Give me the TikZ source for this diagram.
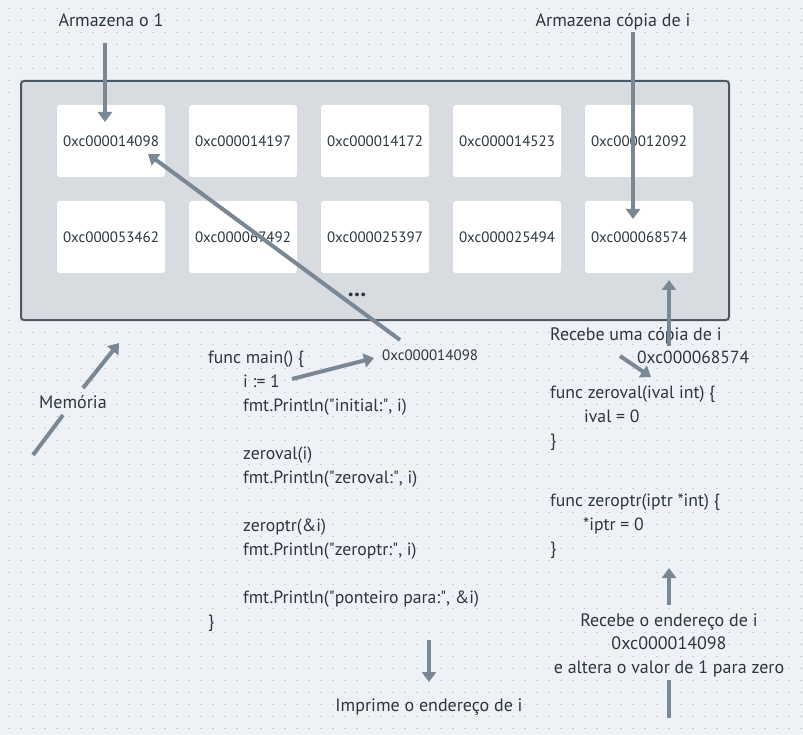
\documentclass[tikz,border=0pt]{standalone}
\usepackage{fontspec}
\setmainfont{PT Sans}
\usetikzlibrary{arrows.meta}
\definecolor{bg}{HTML}{EEF2F6}
\definecolor{dotc}{HTML}{C9CED4}
\definecolor{memfill}{HTML}{D8DCE0}
\definecolor{memborder}{HTML}{4C5864}
\definecolor{ink}{HTML}{2D3640}
\definecolor{arrowc}{HTML}{7A8895}
\newcommand\dq{\XeTeXglyph\XeTeXcharglyph"22\relax}
\begin{document}
\begin{tikzpicture}[x=1pt,y=-1pt,
  lbl/.style={inner sep=0pt, text=ink, font=\fontsize{18}{21}\selectfont},
  codetxt/.style={inner sep=0pt, text=ink, anchor=base west, font=\fontsize{17.7}{20}\selectfont},
  cell/.style={fill=white, rounded corners=3pt, minimum width=108pt, minimum height=72pt, inner sep=0pt, text=ink, font=\fontsize{15}{18}\selectfont},
  arr/.style={draw=arrowc, line width=4pt, -{Triangle[length=10pt,width=14pt]}},
  plainline/.style={draw=arrowc, line width=4pt}]
% background and dot grid
\fill[bg] (0,0) rectangle (803,735);
\useasboundingbox (0,0) rectangle (803,735);
\foreach \k in {0,...,60}{
  \draw[dotc, line width=1.3pt, dash pattern=on 1.3pt off 10.7pt] (8.4,8.5+12*\k) -- (803,8.5+12*\k);
}
% memory block
\draw[fill=memfill, draw=memborder, line width=2pt, rounded corners=3pt] (21,81) rectangle (729,320);
\node[cell] (c11) at (111,141) {0xc000014098};
\node[cell] (c12) at (243,141) {0xc000014197};
\node[cell] (c13) at (375,141) {0xc000014172};
\node[cell] (c14) at (507,141) {0xc000014523};
\node[cell] (c15) at (639,141) {0xc000012092};
\node[cell] (c21) at (111,237) {0xc000053462};
\node[cell] (c22) at (243,237) {0xc000067492};
\node[cell] (c23) at (375,237) {0xc000025397};
\node[cell] (c24) at (507,237) {0xc000025494};
\node[cell] (c25) at (639,237) {0xc000068574};
\node[lbl, anchor=base, font=\fontsize{24}{26}\selectfont\bfseries] (dots) at (357,297) {...};
% top labels
\node[lbl, anchor=base] (arm1) at (111,27) {Armazena o 1};
\node[lbl, anchor=base] (armc) at (613,27) {Armazena cópia de i};
% memory label
\node[lbl, anchor=base west] (mem) at (39,408) {Memória};
% main code
\node[codetxt] (m1) at (208,363) {func main() \{};
\node[codetxt] (m2) at (243,387) {i := 1};
\node[codetxt] (m3) at (243,411) {fmt.Println(\dq initial:\dq, i)};
\node[codetxt] (m4) at (243,459) {zeroval(i)};
\node[codetxt] (m5) at (243,483) {fmt.Println(\dq zeroval:\dq, i)};
\node[codetxt] (m6) at (243,531) {zeroptr(\&i)};
\node[codetxt] (m7) at (243,555) {fmt.Println(\dq zeroptr:\dq, i)};
\node[codetxt] (m8) at (243,603) {fmt.Println(\dq ponteiro para:\dq, \&i)};
\node[codetxt] (m9) at (208,627) {\}};
\node[lbl, anchor=base west, font=\fontsize{15}{18}\selectfont] (addr1) at (382,360) {0xc000014098};
% right side
\node[lbl, anchor=base west] (rc) at (550,341) {Recebe uma cópia de i};
\node[lbl, anchor=base west, font=\fontsize{17.5}{20}\selectfont] (addr2) at (637,363) {0xc000068574};
\node[codetxt] (z1) at (550,398) {func zeroval(ival int) \{};
\node[codetxt] (z2) at (584,422) {ival = 0};
\node[codetxt] (z3) at (550,446) {\}};
\node[codetxt] (p1) at (550,506) {func zeroptr(iptr *int) \{};
\node[codetxt] (p2) at (583,530) {*iptr = 0};
\node[codetxt] (p3) at (550,554) {\}};
\node[lbl, anchor=base] (re1) at (669,626) {Recebe o endereço de i};
\node[lbl, anchor=base] (re2) at (669,649) {0xc000014098};
\node[lbl, anchor=base] (re3) at (669,673) {e altera o valor de 1 para zero};
\node[lbl, anchor=base] (imp) at (429,711) {Imprime o endereço de i};
% connector end points
\coordinate (a1s) at (105,43);   \coordinate (a1e) at (105,122);
\coordinate (a2s) at (633,32);   \coordinate (a2e) at (633,219);
\coordinate (a3s) at (400,340);  \coordinate (a3e) at (148,154);
\coordinate (a4s) at (292,379);  \coordinate (a4e) at (374,358);
\coordinate (a5s) at (83,388);   \coordinate (a5e) at (119,343);
\coordinate (l6s) at (63,415);   \coordinate (l6e) at (33,455);
\coordinate (a7s) at (669,346);  \coordinate (a7e) at (669,280);
\coordinate (a8s) at (620,356);  \coordinate (a8e) at (651,377);
\coordinate (a9s) at (669,605);  \coordinate (a9e) at (669,568);
\coordinate (l10s) at (669,680); \coordinate (l10e) at (669,718);
\coordinate (a11s) at (429,640); \coordinate (a11e) at (429,682);
% connectors
\draw[arr] (a1s) -- (a1e);
\draw[arr] (a2s) -- (a2e);
\draw[arr] (a3s) -- (a3e);
\draw[arr] (a4s) -- (a4e);
\draw[arr] (a5s) -- (a5e);
\draw[plainline] (l6s) -- (l6e);
\draw[arr] (a7s) -- (a7e);
\draw[arr] (a8s) -- (a8e);
\draw[arr] (a9s) -- (a9e);
\draw[plainline] (l10s) -- (l10e);
\draw[arr] (a11s) -- (a11e);
\end{tikzpicture}
\end{document}
